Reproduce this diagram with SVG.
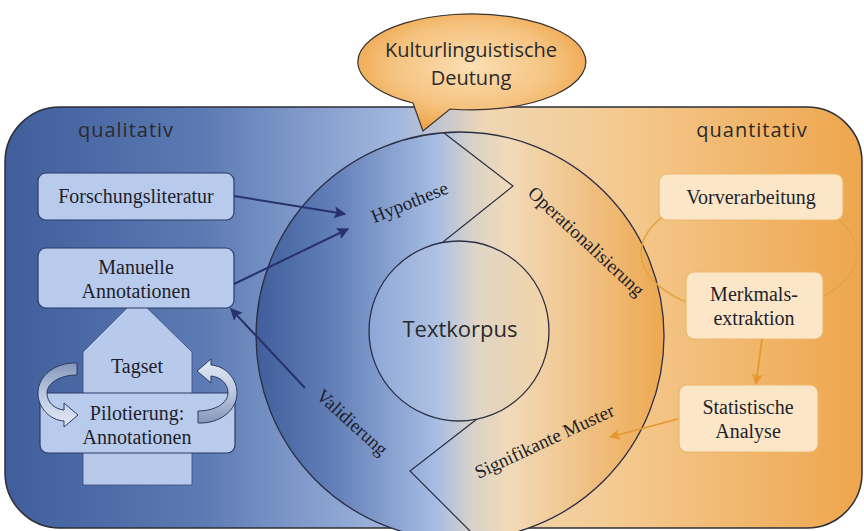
<svg xmlns="http://www.w3.org/2000/svg" width="864" height="531" viewBox="0 0 864 531">
<defs>
<linearGradient id="bg" gradientUnits="userSpaceOnUse" x1="5" y1="0" x2="862" y2="0">
<stop offset="0" stop-color="#3f5e9b"/>
<stop offset="0.23" stop-color="#5c7ab3"/>
<stop offset="0.46" stop-color="#a3b8df"/>
<stop offset="0.51" stop-color="#c4c6cf"/>
<stop offset="0.56" stop-color="#efd7b4"/>
<stop offset="0.72" stop-color="#f4c98f"/>
<stop offset="1" stop-color="#eea64d"/>
</linearGradient>
<linearGradient id="ring" gradientUnits="userSpaceOnUse" x1="256" y1="0" x2="664" y2="0">
<stop offset="0" stop-color="#3f5e9b"/>
<stop offset="0.2" stop-color="#6481ba"/>
<stop offset="0.44" stop-color="#a6bce3"/>
<stop offset="0.53" stop-color="#d8d2c8"/>
<stop offset="0.62" stop-color="#f2dab8"/>
<stop offset="1" stop-color="#eea850"/>
</linearGradient>
<linearGradient id="inner" gradientUnits="userSpaceOnUse" x1="369" y1="0" x2="549" y2="0">
<stop offset="0" stop-color="#8ca6d6"/>
<stop offset="0.4" stop-color="#b1c3e4"/>
<stop offset="0.6" stop-color="#e0d5c6"/>
<stop offset="1" stop-color="#f3d4a6"/>
</linearGradient>
<radialGradient id="bubble" cx="0.5" cy="0.45" r="0.6">
<stop offset="0" stop-color="#fbdfb4"/>
<stop offset="0.6" stop-color="#f5c27e"/>
<stop offset="1" stop-color="#ec9f3f"/>
</radialGradient>
<linearGradient id="curv" x1="0" y1="0" x2="0" y2="1">
<stop offset="0" stop-color="#8496b8"/>
<stop offset="0.45" stop-color="#b9c6dc"/>
<stop offset="1" stop-color="#e4ebf7"/>
</linearGradient>
<marker id="mNavy" viewBox="0 0 10 10" refX="9" refY="5" markerWidth="12" markerHeight="12" markerUnits="userSpaceOnUse" orient="auto">
<path d="M0,0 L10,5 L0,10 L2,5 Z" fill="#27316b"/>
</marker>
<marker id="mOrange" viewBox="0 0 10 10" refX="9" refY="5" markerWidth="11" markerHeight="11" markerUnits="userSpaceOnUse" orient="auto">
<path d="M0,0 L10,5 L0,10 L2,5 Z" fill="#e6982f"/>
</marker>
</defs>
<style>
.lbox{fill:#b8cbec;stroke:#2b3b67;stroke-width:1.2}
.rbox{fill:#fbe6c8;stroke:#ebb76c;stroke-width:1.2}
.serif{font-family:"Liberation Serif","DejaVu Serif",serif;font-size:20px;fill:#1e1f2b;text-anchor:middle}
.ring{font-size:19px}
.sans{font-family:"Open Sans","Noto Sans","DejaVu Sans",sans-serif;fill:#2a2a2a;text-anchor:middle}
.nav{stroke:#27316b;stroke-width:2;fill:none;marker-end:url(#mNavy)}
.org{stroke:#e6982f;stroke-width:1.8;fill:none;marker-end:url(#mOrange)}
.edge{fill:none;stroke:#2b2f45;stroke-width:1.2}
.carrow{fill:url(#curv);stroke:#2b3b67;stroke-width:1}
</style>

<g id="background">
<rect x="5" y="107" width="857" height="421" rx="55" ry="55" fill="url(#bg)" stroke="#2e2e36" stroke-width="1.5"/>
<text class="sans" x="126" y="137" font-size="20" letter-spacing="1">qualitativ</text>
<text class="sans" x="752" y="137" font-size="20" letter-spacing="1">quantitativ</text>
</g>

<g id="bubble-node">
<path d="M413,103 A114,48 0 1 1 450,109 L423,131 Z" fill="url(#bubble)" stroke="#3a3330" stroke-width="1.2"/>
<text class="sans" x="471" y="57" font-size="20">Kulturlinguistische</text>
<text class="sans" x="471" y="85" font-size="20">Deutung</text>
</g>

<g id="cycle">
<circle cx="460" cy="336" r="204" fill="url(#ring)" stroke="#2b2f45" stroke-width="1.3"/>
<polyline class="edge" points="444,133 513,186 443,242"/>
<polyline class="edge" points="477,419 410,471 470,531"/>
<text class="serif ring" transform="translate(412,208) rotate(-22)">Hypothese</text>
<text class="serif ring" transform="translate(582,246) rotate(43)">Operationalisierung</text>
<text class="serif ring" transform="translate(348,427) rotate(42)">Validierung</text>
<text class="serif ring" transform="translate(547,447) rotate(-25)">Signifikante Muster</text>
</g>

<g id="textkorpus">
<circle cx="459" cy="331" r="90" fill="url(#inner)" stroke="#2b2f45" stroke-width="1.3"/>
<text class="sans" x="460" y="337" font-size="22">Textkorpus</text>
</g>

<g id="tagset">
<polygon points="83,485 83,352 137,298 192,352 192,485" fill="#b7caeb" stroke="#3a4a78" stroke-width="0.8"/>
<text class="serif" x="137" y="373">Tagset</text>
</g>

<g id="forschungsliteratur">
<rect class="lbox" x="38" y="173" width="196" height="47" rx="8"/>
<text class="serif" x="136" y="203">Forschungsliteratur</text>
</g>

<g id="manuelle-annotationen">
<rect class="lbox" x="38" y="248" width="196" height="60" rx="8"/>
<text class="serif" x="136" y="274">Manuelle</text>
<text class="serif" x="136" y="298">Annotationen</text>
</g>

<g id="pilotierung">
<rect class="lbox" x="40" y="393" width="195" height="60" rx="8"/>
<text class="serif" x="137" y="420">Pilotierung:</text>
<text class="serif" x="137" y="444">Annotationen</text>
</g>

<g id="loop-arrows">
<path class="carrow" d="M77,363 C55,362 38,376 38,393 C38,408 50,420 64,421 L64,427 L78,415 L64,403 L64,410 C54,409 47,402 47,393 C47,383 60,375 77,375 Z"/>
<path class="carrow" transform="rotate(180 137.5 393)" d="M77,363 C55,362 38,376 38,393 C38,408 50,420 64,421 L64,427 L78,415 L64,403 L64,410 C54,409 47,402 47,393 C47,383 60,375 77,375 Z"/>
</g>

<g id="ring-right">
<ellipse cx="749" cy="253" rx="108" ry="60" fill="none" stroke="#e3a444" stroke-width="1.6"/>
</g>

<g id="vorverarbeitung">
<rect class="rbox" x="659" y="174" width="184" height="46" rx="8"/>
<text class="serif" x="751" y="204">Vorverarbeitung</text>
</g>

<g id="merkmalsextraktion">
<rect class="rbox" x="686" y="272" width="137" height="67" rx="8"/>
<text class="serif" x="754" y="301">Merkmals-</text>
<text class="serif" x="754" y="325">extraktion</text>
</g>

<g id="statistische-analyse">
<rect class="rbox" x="679" y="385" width="139" height="67" rx="8"/>
<text class="serif" x="748" y="414">Statistische</text>
<text class="serif" x="748" y="438">Analyse</text>
</g>

<g id="connectors">
<line class="nav" x1="234" y1="196" x2="345" y2="214"/>
<line class="nav" x1="234" y1="284" x2="348" y2="229"/>
<line class="nav" x1="305" y1="388" x2="231" y2="309"/>
<line class="org" x1="762" y1="339" x2="756" y2="384"/>
<line class="org" x1="678" y1="419" x2="610" y2="437"/>
</g>
</svg>
